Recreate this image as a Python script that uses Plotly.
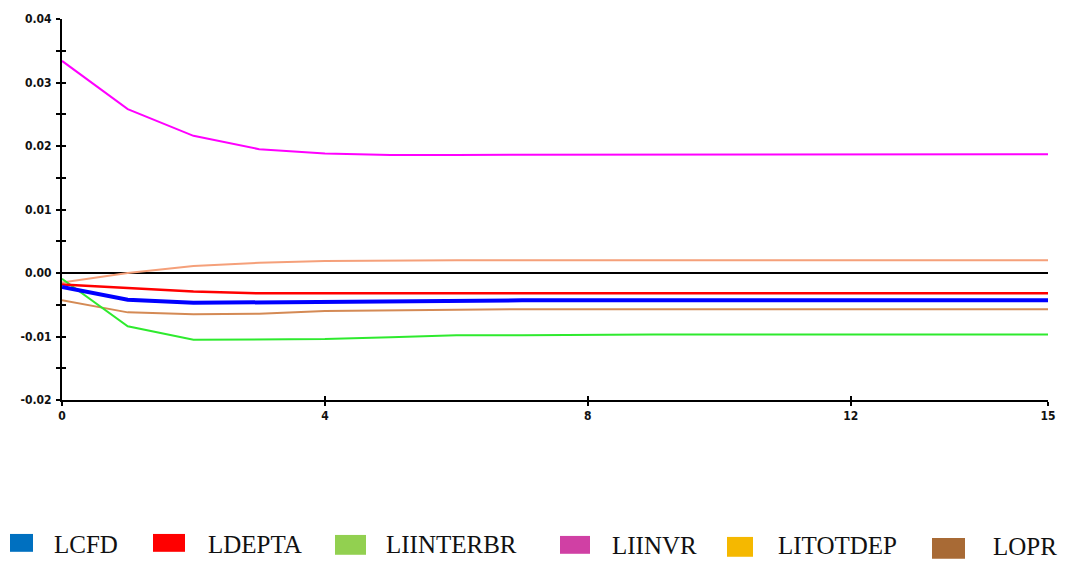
import plotly.graph_objects as go

# Impulse-response horizon
periods = list(range(16))

# Responses by variable
lcfd = [-0.0022, -0.0042, -0.0047, -0.0046, -0.0045, -0.0044, -0.0043, -0.0043,
        -0.0043, -0.0043, -0.0043, -0.0043, -0.0043, -0.0043, -0.0043, -0.0043]
ldepta = [-0.0018, -0.0023, -0.0029, -0.0032, -0.0032, -0.0032, -0.0032, -0.0032,
          -0.0032, -0.0032, -0.0032, -0.0032, -0.0032, -0.0032, -0.0032, -0.0032]
liinterbr = [-0.0009, -0.0084, -0.0105, -0.0105, -0.0104, -0.0101, -0.0098, -0.0098,
             -0.0097, -0.0097, -0.0097, -0.0097, -0.0097, -0.0097, -0.0097, -0.0097]
liinvr = [0.0334, 0.0258, 0.0216, 0.0195, 0.0188, 0.0186, 0.0186, 0.0186,
          0.0186, 0.0187, 0.0187, 0.0187, 0.0187, 0.0187, 0.0187, 0.0187]
litotdep = [-0.0015, 0.0000, 0.0011, 0.0016, 0.0019, 0.0020, 0.0020, 0.0020,
            0.0020, 0.0020, 0.0020, 0.0020, 0.0020, 0.0020, 0.0020, 0.0020]
lopr = [-0.0043, -0.0062, -0.0065, -0.0064, -0.0060, -0.0059, -0.0057, -0.0057,
        -0.0057, -0.0057, -0.0057, -0.0057, -0.0057, -0.0057, -0.0057, -0.0057]

x_ticks = [0, 4, 8, 12, 15]
y_ticks = [-0.02, -0.01, 0.0, 0.01, 0.02, 0.03, 0.04]
y_ticklabels = ["-0.02", "-0.01", "0.00", "0.01", "0.02", "0.03", "0.04"]

legend_names = ["LCFD", "LDEPTA", "LIINTERBR", "LIINVR", "LITOTDEP", "LOPR"]
legend_colors = ["#0070C0", "#FF0000", "#92D050", "#D040A4", "#F5B800", "#A86A35"]

series = [
    (lcfd, "#0000FF", 4),
    (ldepta, "#FF0000", 2.5),
    (liinterbr, "#2EEA2E", 2),
    (liinvr, "#FF00FF", 2),
    (litotdep, "#F5A07A", 2),
    (lopr, "#D48A55", 2),
]

fig = go.Figure()
# draw order: thin lines first, the thick blue line on top
order = [4, 5, 2, 1, 3, 0]
for i in order:
    vals, color, width = series[i]
    fig.add_trace(go.Scatter(x=periods, y=vals, mode="lines", name=legend_names[i],
                             line=dict(color=color, width=width), showlegend=False,
                             hoverinfo="skip"))

# invisible trace on the overlay axes so their inner ticks are drawn
fig.add_trace(go.Scatter(x=[0], y=[0], xaxis="x2", yaxis="y2", mode="markers",
                         marker=dict(opacity=0), showlegend=False, hoverinfo="skip"))

tick_font = dict(family="Liberation Sans Narrow, Arial Narrow, DejaVu Sans Condensed",
                 size=12, color="#111111", weight="bold")

fig.update_layout(
    width=1076, height=561,
    margin=dict(l=62, r=28, t=16, b=161),
    paper_bgcolor="white", plot_bgcolor="white",
    xaxis=dict(range=[0, 15], tickvals=x_ticks, ticktext=[str(t) for t in x_ticks],
               showgrid=False, zeroline=False, showline=True, linecolor="black",
               linewidth=2, ticks="outside", ticklen=4, tickwidth=1.5, tickcolor="black",
               tickfont=tick_font),
    yaxis=dict(range=[-0.02, 0.04], tickvals=y_ticks, ticktext=y_ticklabels,
               showgrid=False, zeroline=True, zerolinecolor="black", zerolinewidth=2,
               showline=True, linecolor="black", linewidth=2, ticks="outside",
               ticklen=4, tickwidth=1.5, tickcolor="black", tickfont=tick_font,
               ticklabelstandoff=2,
               minor=dict(dtick=0.005, tick0=0, ticks="outside", ticklen=4,
                          tickwidth=1.5, tickcolor="black")),
    xaxis2=dict(range=[0, 15], overlaying="x", tickvals=x_ticks, showticklabels=False,
                showgrid=False, zeroline=False, showline=False, ticks="inside",
                ticklen=4, tickwidth=1.5, tickcolor="black"),
    yaxis2=dict(range=[-0.02, 0.04], overlaying="y", tickvals=[-0.02 + 0.005 * k for k in range(13)],
                showticklabels=False, showgrid=False, zeroline=False, showline=False,
                ticks="inside", ticklen=4, tickwidth=1.5, tickcolor="black"),
)

# Legend row drawn as colored swatches with labels beneath the plot
swatch_x = [10, 153, 335, 560, 727, 932]
swatch_w = [23, 32, 31, 30, 26, 33]
swatch_top = [535, 535, 536, 537, 538, 539]
swatch_h = [18, 18, 20, 18, 20, 21]
label_x = [53, 207, 385, 611, 777, 992]
label_y = [546, 546, 546, 547, 547, 548]

plot_left, plot_w, plot_bottom, plot_h = 62, 986, 400, 384


def px_to_paper_x(px):
    return (px - plot_left) / plot_w


def px_to_paper_y(py):
    return (plot_bottom - py) / plot_h


for k, name in enumerate(legend_names):
    fig.add_shape(type="rect", xref="paper", yref="paper",
                  x0=px_to_paper_x(swatch_x[k]), x1=px_to_paper_x(swatch_x[k] + swatch_w[k]),
                  y0=px_to_paper_y(swatch_top[k] + swatch_h[k]), y1=px_to_paper_y(swatch_top[k]),
                  fillcolor=legend_colors[k], line=dict(width=0))
    fig.add_annotation(text=name, xref="paper", yref="paper",
                       x=px_to_paper_x(label_x[k]), y=px_to_paper_y(label_y[k]),
                       xanchor="left", yanchor="middle", showarrow=False, borderpad=0,
                       font=dict(family="Liberation Serif, Times New Roman, serif",
                                 size=25, color="#111111"))

fig.write_html("out.html")
